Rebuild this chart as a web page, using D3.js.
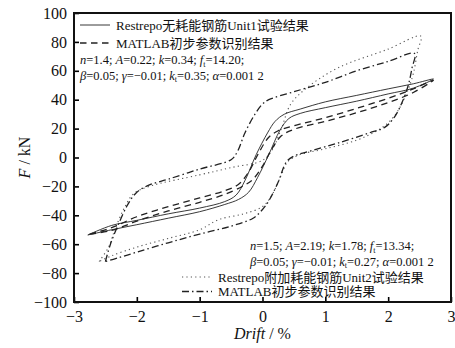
<!DOCTYPE html>
<html>
<head>
<meta charset="utf-8">
<script src="https://cdn.jsdelivr.net/npm/d3@7"></script>
<style>
  body { margin: 0; background: #fff; }
  svg text { font-family: "Liberation Serif", "Times New Roman", "Noto Sans CJK SC", serif; }
</style>
</head>
<body>
<svg id="chart" width="455" height="348"></svg>
<script>
// hysteresis loops, [drift %, force kN], upper branch left->right then lower branch back
var unit1Test = [[-2.78,-53.6],[-2.4,-47],[-2.0,-43.5],[-1.5,-39],[-1.0,-35],[-0.6,-30.5],[-0.42,-26],[-0.28,-16],[-0.1,2],[0.08,17],[0.2,25],[0.35,30],[0.6,33.5],[1.0,38.5],[1.5,43],[2.0,47.5],[2.4,51],[2.72,54.3],
  [2.4,48],[2.0,44],[1.5,39],[1.0,34.5],[0.6,30.5],[0.42,27],[0.28,19],[0.1,2],[-0.08,-14],[-0.22,-24],[-0.38,-29],[-0.6,-32.5],[-1.0,-37.5],[-1.5,-42],[-2.0,-46.5],[-2.4,-50],[-2.78,-53.6]];
var unit1Model = [[-2.75,-53],[-2.4,-48.5],[-2.0,-41],[-1.5,-34],[-1.0,-28],[-0.6,-23],[-0.38,-18.5],[-0.22,-10],[-0.05,4],[0.1,14],[0.25,18.5],[0.5,22],[1.0,27.5],[1.5,34],[2.0,41],[2.4,47.5],[2.72,53.5],
  [2.4,45],[2.0,38],[1.5,31],[1.0,25],[0.5,19.5],[0.3,15],[0.15,6],[0.0,-6],[-0.15,-15],[-0.3,-19.5],[-0.6,-25.5],[-1.0,-31],[-1.5,-37],[-2.0,-44],[-2.4,-50.5],[-2.75,-53]];
var unit2Test = [[-2.6,-72],[-2.45,-62],[-2.35,-50],[-2.2,-35],[-2.05,-25],[-1.8,-20],[-1.0,-12],[-0.5,-7],[0.0,-2],[0.15,5],[0.3,20],[0.45,37],[0.7,48],[1.2,62],[2.0,75],[2.52,84],
  [2.47,74],[2.4,58],[2.3,45],[2.15,32],[2.0,24],[1.8,18],[1.5,12],[1.0,6],[0.6,2],[0.4,-3],[0.3,-12],[0.15,-26],[0.0,-34],[-0.3,-39],[-0.7,-43],[-1.0,-50],[-1.5,-56],[-2.0,-62],[-2.4,-68],[-2.6,-72]];
var unit2Model = [[-2.5,-72],[-2.42,-60],[-2.3,-47],[-2.15,-33],[-2.0,-24],[-1.8,-19],[-1.5,-15],[-1.0,-8],[-0.5,-1.5],[-0.4,4],[-0.28,17],[-0.12,30],[0.0,37],[0.1,40],[0.5,45.5],[1.0,52],[1.5,60],[2.0,66.5],[2.42,72],
  [2.38,62],[2.32,50],[2.22,38],[2.1,28],[1.95,21],[1.7,17],[1.2,10],[0.8,5],[0.5,1],[0.38,-3],[0.25,-17],[0.1,-30],[0.0,-36],[-0.15,-42],[-0.5,-47.5],[-1.0,-53],[-1.5,-59],[-2.0,-65.5],[-2.3,-69.5],[-2.5,-72]];

var xTicks = [-3, -2, -1, 0, 1, 2, 3];
var yTicks = [-100, -80, -60, -40, -20, 0, 20, 40, 60, 80, 100];

var legendTop = ["Restrepo无耗能钢筋Unit1试验结果", "MATLAB初步参数识别结果"];
var legendBottom = ["Restrepo附加耗能钢筋Unit2试验结果", "MATLAB初步参数识别结果"];
// [text, style]  i = italic, s = subscript
var params1 = [
  [["n","i"],["=1.4; "],["A","i"],["=0.22; "],["k","i"],["=0.34; "],["f","i"],["t","s"],["=14.20;"]],
  [["β","i"],["=0.05; "],["γ","i"],["=−0.01; "],["k","i"],["t","s"],["=0.35; "],["α","i"],["=0.001 2"]]
];
var params2 = [
  [["n","i"],["=1.5; "],["A","i"],["=2.19; "],["k","i"],["=1.78; "],["f","i"],["t","s"],["=13.34;"]],
  [["β","i"],["=0.05; "],["γ","i"],["=−0.01; "],["k","i"],["t","s"],["=0.27; "],["α","i"],["=0.001 2"]]
];

var margin = {top: 13, right: 4, bottom: 46, left: 74},
    width = 455 - margin.left - margin.right,
    height = 348 - margin.top - margin.bottom;

var svg = d3.select("#chart");
var g = svg.append("g").attr("transform", `translate(${margin.left},${margin.top})`);

var x = d3.scaleLinear().domain([-3, 3]).range([0, width]);
var y = d3.scaleLinear().domain([-100, 100]).range([height, 0]);

var styles = {
  test1:  {stroke: "#222", width: 0.9, dash: null},
  model1: {stroke: "#222", width: 1.3, dash: "6.5 4.5"},
  test2:  {stroke: "#555", width: 1.1, dash: "1.2 3.2"},
  model2: {stroke: "#222", width: 1.3, dash: "7 3 1.5 3"}
};

var line = d3.line()
  .x(d => x(d[0]))
  .y(d => y(d[1]))
  .curve(d3.curveCatmullRom.alpha(0.5));

var series = [[unit2Test, "test2"], [unit2Model, "model2"], [unit1Model, "model1"], [unit1Test, "test1"]];
g.selectAll(".loop")
  .data(series)
  .join("path")
    .attr("class", "loop")
    .attr("fill", "none")
    .attr("d", d => line(d[0]))
    .attr("stroke", d => styles[d[1]].stroke)
    .attr("stroke-width", d => styles[d[1]].width)
    .attr("stroke-dasharray", d => styles[d[1]].dash);

// axes with inward ticks
var fmt = d => d < 0 ? "−" + Math.abs(d) : "" + d;
g.append("g")
    .attr("transform", `translate(0,${height})`)
    .call(d3.axisBottom(x).tickValues(xTicks).tickSize(-5).tickSizeOuter(0).tickPadding(9).tickFormat(fmt))
    .call(a => a.select(".domain").remove())
    .call(a => a.selectAll("line").attr("stroke-width", 1.6))
    .call(a => a.selectAll("text").attr("font-size", 16).attr("fill", "#111"));

g.append("g")
    .call(d3.axisLeft(y).tickValues(yTicks).tickSize(-5).tickSizeOuter(0).tickPadding(7).tickFormat(fmt))
    .call(a => a.select(".domain").remove())
    .call(a => a.selectAll("line").attr("stroke-width", 1.6))
    .call(a => a.selectAll("text").attr("font-size", 16).attr("fill", "#111"));

g.append("rect")
    .attr("width", width).attr("height", height)
    .attr("fill", "none").attr("stroke", "#111").attr("stroke-width", 2);

// axis titles
var yl = svg.append("text")
    .attr("transform", `translate(30,${margin.top + height / 2}) rotate(-90)`)
    .attr("text-anchor", "middle").attr("font-size", 16).attr("fill", "#111");
yl.append("tspan").attr("font-style", "italic").text("F");
yl.append("tspan").text(" / kN");

var xl = svg.append("text")
    .attr("x", margin.left + width / 2).attr("y", 339)
    .attr("text-anchor", "middle").attr("font-size", 16).attr("fill", "#111");
xl.append("tspan").attr("font-style", "italic").text("Drift");
xl.append("tspan").text(" / %");

// legends
function legend(items, keys, x0, y0, step) {
  items.forEach(function(label, i) {
    var yy = y0 + i * step;
    var s = styles[keys[i]];
    svg.append("line")
      .attr("x1", x0).attr("x2", x0 + 30).attr("y1", yy).attr("y2", yy)
      .attr("stroke", s.stroke).attr("stroke-width", s.width).attr("stroke-dasharray", s.dash);
    svg.append("text")
      .attr("x", x0 + 36).attr("y", yy + 4.5)
      .attr("font-size", 13).attr("fill", "#111")
      .text(label);
  });
}
legend(legendTop, ["test1", "model1"], 80, 25, 18);
legend(legendBottom, ["test2", "model2"], 182, 277, 14.5);

function params(rows, x0, y0) {
  rows.forEach(function(row, i) {
    var t = svg.append("text")
      .attr("x", x0).attr("y", y0 + i * 15.5)
      .attr("font-size", 12.5).attr("fill", "#111");
    var sub = false;
    row.forEach(function(seg) {
      var ts = t.append("tspan").text(seg[0]);
      if (seg[1] === "i") ts.attr("font-style", "italic");
      if (seg[1] === "s") { ts.attr("font-size", 8).attr("dy", 2.5); sub = true; }
      else if (sub) { ts.attr("dy", -2.5); sub = false; }
    });
  });
}
params(params1, 80, 64);
params(params2, 250, 250);
</script>
</body>
</html>
